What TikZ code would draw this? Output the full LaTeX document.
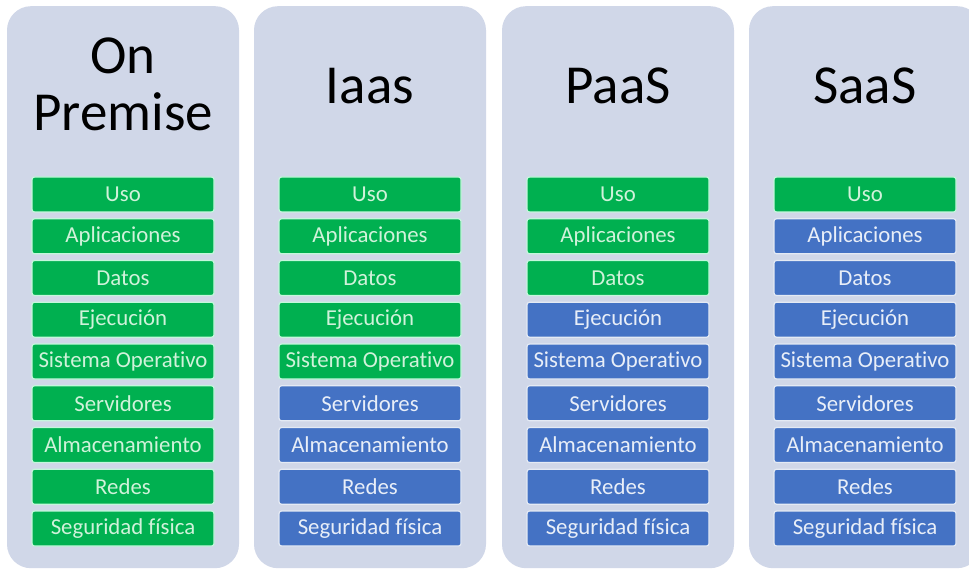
\documentclass[tikz,border=0pt]{standalone}
\usepackage{fontspec}
\setmainfont[Ligatures=NoCommon]{Carlito}
\definecolor{colbg}{HTML}{D0D7E8}
\definecolor{gfill}{HTML}{00B050}
\definecolor{bfill}{HTML}{4472C4}
\definecolor{gtext}{HTML}{D0F2DA}
\definecolor{btext}{HTML}{E8EEF8}
\definecolor{gedge}{HTML}{C4F7DC}
\definecolor{bedge}{HTML}{E4EAF4}
\tikzset{
  x=1pt,y=1pt,
  colpanel/.style={fill=colbg,draw=none,rounded corners=24pt},
  title/.style={anchor=base,font=\fontsize{55}{60}\selectfont,text=black,inner sep=0pt},
  cell/.style={minimum width=182pt,minimum height=35pt,inner sep=0pt,rounded corners=2.5pt,line width=1.2pt,font=\fontsize{22.8}{24}\selectfont},
  gcell/.style={cell,fill=gfill,draw=gedge,text=gtext},
  bcell/.style={cell,fill=bfill,draw=bedge,text=btext},
}
\begin{document}
\begin{tikzpicture}
\useasboundingbox (0,0) rectangle (969,-572);
\fill[white] (0,0) rectangle (969,-572);
% panels
\foreach \cx/\nm in {123/p1,370/p2,618/p3,865/p4}{
  \node[colpanel,minimum width=232pt,minimum height=562pt,anchor=north] (\nm) at (\cx,-6) {};
}
% titles
\node[title] (t1a) at (123,-74) {On};
\node[title] (t1b) at (123,-131) {Premise};
\node[title] (t2) at (370,-104) {Iaas};
\node[title] (t3) at (618,-104) {PaaS};
\node[title] (t4) at (865,-104) {SaaS};
% cells
\def\labels{{"Uso","Aplicaciones","Datos","Ejecución","Sistema Operativo","Servidores","Almacenamiento","Redes","Seguridad física"}}
\foreach \c/\cx/\ng in {1/123/9,2/370/5,3/618/3,4/865/1}{
  \foreach \i in {0,...,8}{
    \pgfmathsetmacro{\yc}{-(194.5+41.75*\i)}
    \pgfmathparse{\labels[\i]}\let\lab\pgfmathresult
    \ifnum\i<\ng
      \node[gcell] (c\c-\i) at (\cx,\yc) {\lab};
    \else
      \node[bcell] (c\c-\i) at (\cx,\yc) {\lab};
    \fi
  }
}
\end{tikzpicture}
\end{document}
